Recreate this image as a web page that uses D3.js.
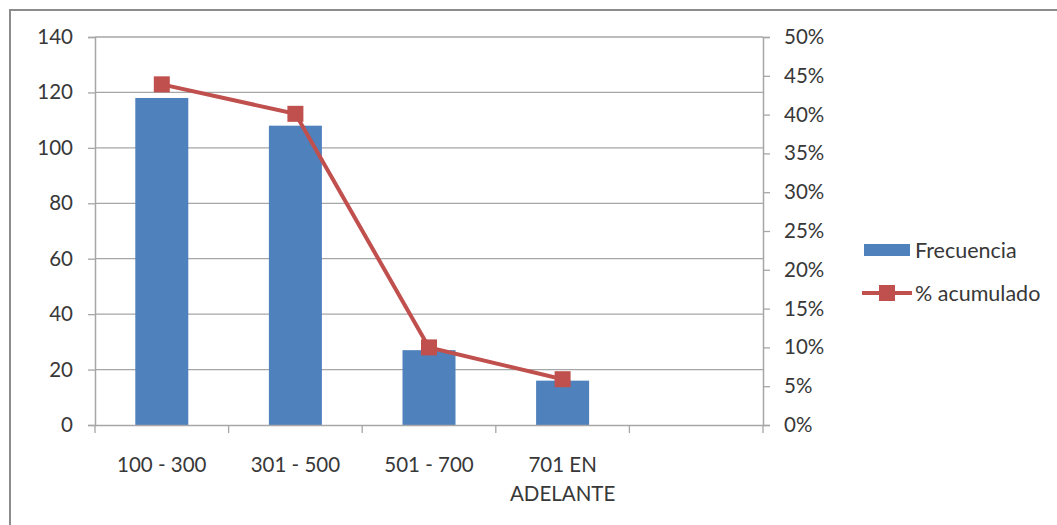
<!DOCTYPE html>
<html><head><meta charset="utf-8">
<script src="https://cdn.jsdelivr.net/npm/d3@7"></script>
<style>
body{margin:0;background:#fff;}
svg{display:block;font-family:Lato, "Open Sans", sans-serif;}
</style></head>
<body>
<svg id="c" width="1057" height="525"></svg>
<script>
const categories = [["100 - 300"], ["301 - 500"], ["501 - 700"], ["701 EN", "ADELANTE"], [""]];
const frecuencia = [118, 108, 27, 16];
const acumulado = [0.439, 0.401, 0.100, 0.059];
const leftTicks = [0, 20, 40, 60, 80, 100, 120, 140];
const rightTicks = [0, 0.05, 0.10, 0.15, 0.20, 0.25, 0.30, 0.35, 0.40, 0.45, 0.50];
const legendLabels = ["Frecuencia", "% acumulado"];

const svg = d3.select("#c");
const BLUE = "#4F81BD", RED = "#C0504D", GRID = "#a6a6a6", TXT = "#383838";
const L = 95, R = 763, T = 37, B = 425;
const FS = 20.5;

svg.append("rect").attr("x", 10).attr("y", 10).attr("width", 1060).attr("height", 530)
  .attr("fill", "none").attr("stroke", "#8c8c8c").attr("stroke-width", 2);

const xb = d3.scaleBand().domain(d3.range(categories.length)).range([L, R]);
const y = d3.scaleLinear().domain([0, 140]).range([B, T]);
const y2 = d3.scaleLinear().domain([0, 0.5]).range([B, T]);

// gridlines
svg.append("g").selectAll("line").data(leftTicks.slice(1)).join("line")
  .attr("x1", L).attr("x2", R).attr("y1", d => y(d)).attr("y2", d => y(d))
  .attr("stroke", GRID).attr("stroke-width", 1.3);

// bars
const bw = 53;
svg.append("g").selectAll("rect").data(frecuencia).join("rect")
  .attr("x", (d, i) => xb(i) + xb.bandwidth() / 2 - bw / 2)
  .attr("width", bw)
  .attr("y", d => y(d)).attr("height", d => y(0) - y(d))
  .attr("fill", BLUE);

// left axis
const ga = svg.append("g").attr("transform", `translate(${L},0)`)
  .call(d3.axisLeft(y).tickValues(leftTicks).tickSize(7).tickPadding(15));
// right axis
const gr = svg.append("g").attr("transform", `translate(${R},0)`)
  .call(d3.axisRight(y2).tickValues(rightTicks).tickSize(7).tickPadding(14).tickFormat(d3.format(".0%")));
// bottom axis
const gb = svg.append("g").attr("transform", `translate(0,${B})`)
  .call(d3.axisBottom(xb).tickValues([]).tickSizeOuter(0));
[ga, gr, gb].forEach(g => {
  g.select(".domain").attr("stroke", GRID).attr("stroke-width", 1.5);
  g.selectAll(".tick line").attr("stroke", GRID).attr("stroke-width", 1.3);
  g.selectAll("text").attr("fill", TXT).attr("font-size", FS).attr("font-family", "Lato");
});
// bottom ticks at band boundaries
svg.append("g").selectAll("line").data(d3.range(categories.length + 1)).join("line")
  .attr("x1", i => i < categories.length ? xb(i) : R).attr("x2", i => i < categories.length ? xb(i) : R)
  .attr("y1", B).attr("y2", B + 8).attr("stroke", GRID).attr("stroke-width", 1.3);
// category labels
const cl = svg.append("g").selectAll("text").data(categories).join("text")
  .attr("x", (d, i) => xb(i) + xb.bandwidth() / 2).attr("y", 472)
  .attr("text-anchor", "middle").attr("fill", TXT).attr("font-size", FS);
cl.selectAll("tspan").data(d => d).join("tspan")
  .attr("x", function () { return this.parentNode.getAttribute("x"); })
  .attr("dy", (d, i) => i === 0 ? 0 : 29).text(d => d);

// line
const cx = i => xb(i) + xb.bandwidth() / 2;
svg.append("path").datum(acumulado)
  .attr("d", d3.line().x((d, i) => cx(i)).y(d => y2(d)))
  .attr("fill", "none").attr("stroke", RED).attr("stroke-width", 4);
const ms = 16;
svg.append("g").selectAll("rect").data(acumulado).join("rect")
  .attr("x", (d, i) => cx(i) - ms / 2).attr("y", d => y2(d) - ms / 2)
  .attr("width", ms).attr("height", ms).attr("fill", RED);

// legend
const lg = svg.append("g");
lg.append("rect").attr("x", 864).attr("y", 244).attr("width", 46).attr("height", 12).attr("fill", BLUE);
lg.append("text").attr("x", 915).attr("y", 250).attr("dy", "0.35em").attr("fill", TXT).attr("font-size", 21.5).text(legendLabels[0]);
lg.append("line").attr("x1", 862).attr("x2", 912).attr("y1", 293).attr("y2", 293).attr("stroke", RED).attr("stroke-width", 4);
lg.append("rect").attr("x", 879).attr("y", 285).attr("width", 16).attr("height", 16).attr("fill", RED);
lg.append("text").attr("x", 915).attr("y", 293).attr("dy", "0.35em").attr("fill", TXT).attr("font-size", 21.5).text(legendLabels[1]);
</script>
</body></html>
